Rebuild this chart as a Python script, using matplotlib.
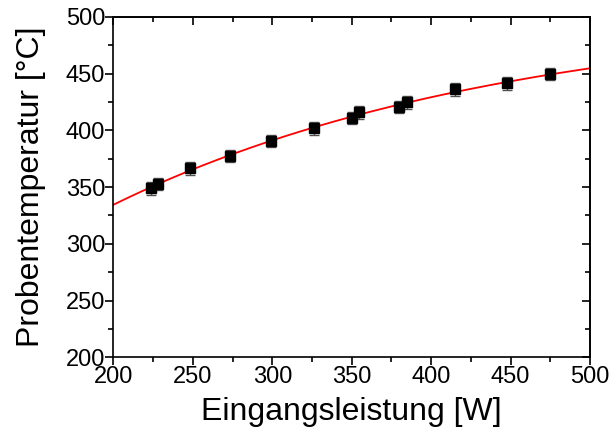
import numpy as np
import matplotlib
matplotlib.use("Agg")
import matplotlib.pyplot as plt
from matplotlib.ticker import MultipleLocator

plt.rcParams['font.family'] = ['Liberation Sans', 'DejaVu Sans']

# input power [W] and measured sample temperature [degC]
leistung = [223.5, 227.9, 248.3, 273.4, 299.2, 326.1, 350.0, 354.6,
            379.8, 384.6, 415.0, 447.9, 474.8]
temperatur = [348.9, 352.6, 366.5, 377.6, 390.8, 401.7, 411.0, 415.8,
              420.7, 424.6, 436.1, 441.3, 449.5]
fehler = [5.5] * len(leistung)

# saturating fit T = A - B*exp(-P/P0), P0 by grid search, A and B by least squares
P = np.array(leistung)
T = np.array(temperatur)
best = None
for p0 in np.linspace(100, 2000, 1901):
    M = np.column_stack([np.ones_like(P), -np.exp(-P / p0)])
    sol, res, _, _ = np.linalg.lstsq(M, T, rcond=None)
    r = np.sum((M @ sol - T) ** 2)
    if best is None or r < best[0]:
        best = (r, p0, sol)
_, p0, (A, B) = best

fig = plt.figure(figsize=(6.16, 4.33), dpi=100)
ax = fig.add_axes([0.184, 0.175, 0.774, 0.786])

xs = np.linspace(200, 500, 300)
ax.plot(xs, A - B * np.exp(-xs / p0), color='red', lw=1.3, zorder=2)

ax.errorbar(leistung, temperatur, yerr=fehler, fmt='s', color='black',
            ms=7, ecolor='#505050', elinewidth=1, capsize=3.6, capthick=1,
            zorder=3)

ax.set_xlim(200, 500)
ax.set_ylim(200, 500)
ax.xaxis.set_major_locator(MultipleLocator(50))
ax.xaxis.set_minor_locator(MultipleLocator(25))
ax.yaxis.set_major_locator(MultipleLocator(50))
ax.yaxis.set_minor_locator(MultipleLocator(25))

for s in ax.spines.values():
    s.set_linewidth(1.2)

ax.tick_params(which='both', direction='out', width=1.2, labelsize=17,
               top=False, right=False, pad=0)
ax.tick_params(which='major', length=6)
ax.tick_params(which='minor', length=3.5)

# inward ticks on top and right without labels
for a, pos in ((ax.secondary_xaxis('top'), 'x'), (ax.secondary_yaxis('right'), 'y')):
    a.set_ticks([200, 250, 300, 350, 400, 450, 500])
    a.tick_params(which='major', direction='in', length=6, width=1.2)
    a.tick_params(labelleft=False, labelright=False, labeltop=False, labelbottom=False)
    if pos == 'x':
        a.xaxis.set_minor_locator(MultipleLocator(25))
    else:
        a.yaxis.set_minor_locator(MultipleLocator(25))
    a.tick_params(which='minor', direction='in', length=3.5, width=1.2)
    for s in a.spines.values():
        s.set_linewidth(1.2)

ax.set_xlabel('Eingangsleistung [W]', fontsize=23, labelpad=7)
ax.set_ylabel('Probentemperatur [°C]', fontsize=23, labelpad=14)

fig.savefig('out.png', dpi=100)
